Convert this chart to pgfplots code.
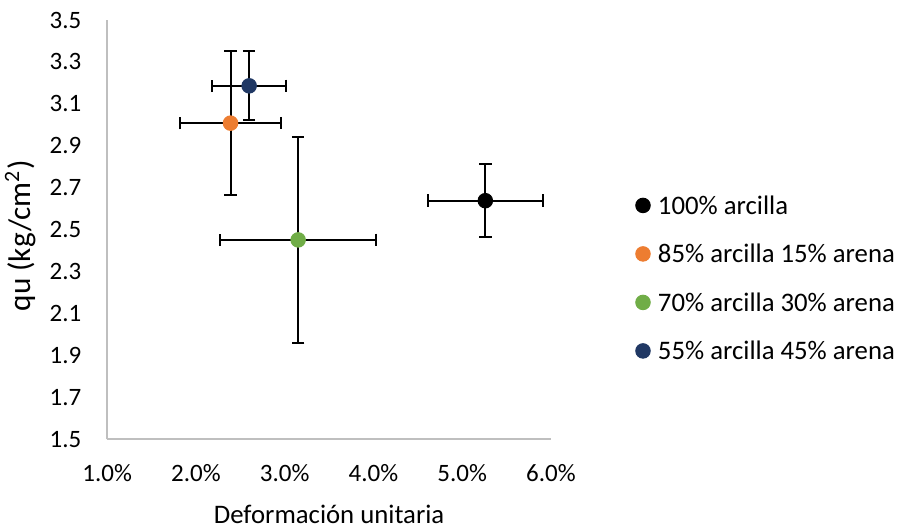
\documentclass[border=0pt]{standalone}
\usepackage{fontspec}
\setmainfont{Carlito}
\usepackage{pgfplots}
\pgfplotsset{compat=1.18}
\definecolor{axisgray}{RGB}{191,191,191}
\definecolor{cA}{RGB}{0,0,0}
\definecolor{cB}{RGB}{237,125,49}
\definecolor{cC}{RGB}{112,173,71}
\definecolor{cD}{RGB}{32,56,100}
\begin{document}
\begin{tikzpicture}[font=\fontsize{10pt}{12pt}\selectfont]
\useasboundingbox (-42.9pt,-35.9pt) rectangle (316.3pt,175.7pt);
\begin{axis}[
  at={(0,0)}, anchor=south west,
  scale only axis, width=177.5pt, height=167.7pt,
  xmin=1, xmax=6, ymin=1.5, ymax=3.5,
  axis lines=left,
  axis line style={draw=axisgray, line width=0.75pt, -},
  major tick length=0pt,
  xtick={1,2,3,4,5,6},
  ytick={1.5,1.7,1.9,2.1,2.3,2.5,2.7,2.9,3.1,3.3,3.5},
  /pgf/number format/assume math mode=true,
  xticklabel={\pgfmathprintnumber[fixed,fixed zerofill,precision=1]{\tick}\%},
  yticklabel={\pgfmathprintnumber[fixed,fixed zerofill,precision=1]{\tick}},
  xticklabel style={anchor=base, yshift=-17pt, inner sep=0pt},
  yticklabel style={anchor=east, inner sep=0pt, xshift=-10.2pt},
  xlabel={Deformación unitaria},
  ylabel={qu (kg/cm\textsuperscript{2})},
  xlabel style={at={(axis description cs:0.5,-0.2021)}, anchor=base, inner sep=0pt, font=\fontsize{10.7pt}{12.8pt}\selectfont},
  ylabel style={at={(axis description cs:-0.174,0.485)}, anchor=base, inner sep=0pt, font=\fontsize{12.5pt}{15pt}\selectfont},
  legend image code/.code={\draw[#1] plot coordinates {(0pt,0pt)};},
  legend style={draw=none, fill=none, inner sep=0pt, outer sep=0pt,
    at={(1.191,0.5786)}, anchor=north west,
    row sep=12.4pt, column sep=3.1pt,
    font=\fontsize{10.7pt}{12.8pt}\selectfont,
    nodes={inner sep=0pt, text height=7pt, text depth=0pt}},
  legend cell align=left,
  every axis plot/.append style={only marks, mark=*, mark size=2.9pt,
    error bars/x dir=both, error bars/x explicit,
    error bars/y dir=both, error bars/y explicit,
    error bars/error bar style={black, line width=0.8pt},
    error bars/error mark options={rotate=90, black, line width=0.8pt, mark size=2.5pt}},
]
\addplot[color=cA, mark options={fill=cA, draw=cA}] coordinates {(5.26,2.638) +- (0.65,0.175)};
\addlegendentry{100\% arcilla}
\addplot[color=cB, mark options={fill=cB, draw=cB}] coordinates {(2.389,3.008) +- (0.571,0.345)};
\addlegendentry{85\% arcilla 15\% arena}
\addplot[color=cC, mark options={fill=cC, draw=cC}] coordinates {(3.151,2.451) +- (0.882,0.490)};
\addlegendentry{70\% arcilla 30\% arena}
\addplot[color=cD, mark options={fill=cD, draw=cD}] coordinates {(2.599,3.186) +- (0.419,0.165)};
\addlegendentry{55\% arcilla 45\% arena}
\end{axis}
\end{tikzpicture}
\end{document}
